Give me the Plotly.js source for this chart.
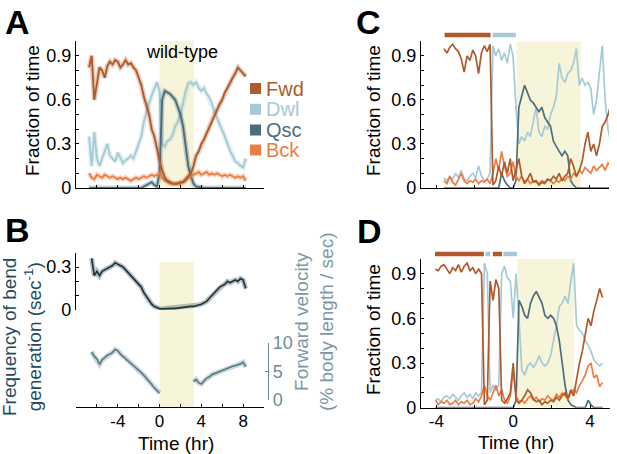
<!DOCTYPE html>
<html><head><meta charset="utf-8">
<script src="https://cdn.plot.ly/plotly-3.0.1.min.js"></script>
<style>html,body{margin:0;padding:0;background:#fff}#chart{width:617px;height:454px}</style>
</head><body><div id="chart"></div>
<script>
// ---------- DATA ----------
var states = ['Fwd','Dwl','Qsc','Bck'];
// Panel A (wild-type averages) and B
var tA = [-6.75,-6.5,-6.25,-6,-5.75,-5.5,-5.25,-5,-4.75,-4.5,-4.25,-4,-3.75,-3.5,-3.25,-3,-2.75,-2.5,-2.25,-2,-1.75,-1.5,-1.25,-1,-0.75,-0.5,-0.25,0,0.25,0.5,0.75,1,1.25,1.5,1.75,2,2.25,2.5,2.75,3,3.25,3.5,3.75,4,4.25,4.5,4.75,5,5.25,5.5,5.75,6,6.25,6.5,6.75,7,7.25,7.5,7.75,8,8.25];
var fwdA = [0.82,0.9,0.6,0.72,0.82,0.8,0.75,0.83,0.86,0.84,0.87,0.86,0.82,0.84,0.87,0.84,0.85,0.82,0.8,0.75,0.7,0.62,0.56,0.5,0.4,0.35,0.27,0.18,0.12,0.07,0.05,0.04,0.03,0.03,0.03,0.04,0.04,0.06,0.08,0.1,0.15,0.22,0.25,0.3,0.33,0.37,0.42,0.45,0.5,0.53,0.57,0.6,0.65,0.68,0.72,0.75,0.78,0.82,0.8,0.78,0.76];
var dwlA = [0.35,0.15,0.38,0.2,0.15,0.2,0.25,0.3,0.22,0.2,0.18,0.24,0.2,0.17,0.19,0.2,0.22,0.2,0.25,0.3,0.35,0.45,0.52,0.58,0.63,0.68,0.72,0.66,0.3,0.28,0.32,0.33,0.36,0.42,0.45,0.5,0.58,0.66,0.71,0.72,0.7,0.72,0.68,0.66,0.68,0.64,0.62,0.58,0.52,0.48,0.43,0.4,0.35,0.3,0.25,0.22,0.18,0.17,0.15,0.14,0.2];
var qscA = [0,0,0,0,0,0,0,0,0,0,0,0,0,0,0,0,0,0,0,0,0,0.01,0.02,0.03,0.04,0.02,0.01,0.1,0.6,0.66,0.65,0.64,0.62,0.6,0.55,0.5,0.42,0.28,0.15,0.08,0.03,0.01,0.005,0,0,0,0,0,0,0,0,0,0,0,0,0,0,0,0,0,0];
var bckA = [0.1,0.07,0.06,0.09,0.08,0.07,0.09,0.08,0.07,0.08,0.07,0.06,0.07,0.06,0.07,0.06,0.05,0.06,0.07,0.06,0.07,0.08,0.07,0.08,0.09,0.08,0.09,0.1,0.07,0.05,0.04,0.03,0.03,0.025,0.03,0.03,0.04,0.05,0.07,0.08,0.09,0.1,0.11,0.09,0.1,0.11,0.09,0.1,0.09,0.1,0.09,0.08,0.09,0.08,0.09,0.08,0.07,0.08,0.07,0.08,0.05];
var freqB = [null,0.36,0.24,0.27,0.24,0.27,0.28,0.29,0.3,0.31,0.33,0.32,0.31,0.3,0.28,0.26,0.24,0.22,0.2,0.18,0.16,0.12,0.09,0.06,0.04,0.025,0.015,0.01,0.008,0.01,0.008,0.01,0.012,0.012,0.015,0.018,0.02,0.02,0.022,0.025,0.025,0.028,0.035,0.04,0.05,0.06,0.08,0.1,0.12,0.14,0.16,0.17,0.18,0.2,0.19,0.2,0.21,0.2,0.22,0.21,0.15];
var velB = [null,8.4,7.6,7.2,6.2,7.0,7.4,7.8,8.0,8.3,8.8,8.6,8.0,7.6,7.3,6.9,6.4,6.0,5.6,5.2,4.8,4.3,3.8,3.3,2.7,2.1,1.6,1.2,null,1.6,null,null,null,null,null,null,null,null,4.4,null,3.2,3.6,3.0,2.8,3.3,3.8,4.0,4.4,4.6,4.8,5.0,5.2,5.4,5.6,5.8,5.9,6.0,6.1,6.3,6.6,5.8];
// Panel C (single animal)
var tC = [-3.6,-3.45,-3.3,-3.15,-3,-2.85,-2.7,-2.55,-2.4,-2.25,-2.1,-1.95,-1.8,-1.65,-1.5,-1.35,-1.2,-1.05,-0.9,-0.75,-0.6,-0.45,-0.3,-0.15,0,0.15,0.3,0.45,0.6,0.75,0.9,1.05,1.2,1.35,1.5,1.65,1.8,1.95,2.1,2.25,2.4,2.55,2.7,2.85,3,3.15,3.3,3.45,3.6,3.75,3.9,4.05,4.2,4.35,4.5,4.65,4.8,4.95,5.1];
var fwdC = [0.95,0.92,0.96,0.98,0.95,0.93,0.88,0.79,0.9,0.87,0.94,0.9,0.78,0.92,0.97,0.93,0.98,0.02,0.05,0.15,0.08,0.18,0.1,0.2,0.05,0.12,0.2,0.08,0.03,0.06,0.1,0.04,0.05,0.02,0.04,0.03,0.06,0.05,0.08,0.06,0.1,0.05,0.08,0.1,0.2,0.15,0.08,0.12,0.18,0.3,0.38,0.25,0.3,0.22,0.3,0.42,0.45,0.5,0.57];
var dwlC = [0.07,0.05,0.08,0.06,0.1,0.07,0.12,0.06,0.05,0.08,0.1,0.07,0.15,0.08,0.05,0.06,0.1,0.97,0.9,0.95,0.87,0.92,0.85,0.98,0.9,0.55,0.3,0.35,0.32,0.38,0.35,0.45,0.55,0.38,0.35,0.42,0.4,0.5,0.55,0.62,0.85,0.75,0.72,0.78,0.8,0.85,0.95,0.7,0.75,0.7,0.72,0.68,0.5,0.6,0.8,0.97,0.6,0.4,0.3];
var qscC = [0,0,0,0,0,0,0,0,0,0,0,0,0,0,0,0,0,0,0,0,0.1,0.05,0.02,0,0,0.05,0.55,0.62,0.7,0.65,0.6,0.58,0.55,0.52,0.55,0.48,0.45,0.42,0.32,0.28,0.25,0.22,0.25,0.22,0.05,0.02,0,0,0,0,0,0,0,0,0,0,0,0,0];
var bckC = [0.05,0.03,0.08,0.04,0.02,0.06,0.1,0.05,0.03,0.05,0.04,0.06,0.03,0.05,0.04,0.06,0.03,0.1,0.2,0.12,0.25,0.15,0.08,0.1,0.18,0.08,0.05,0.08,0.04,0.06,0.03,0.05,0.04,0.03,0.05,0.04,0.06,0.05,0.03,0.05,0.04,0.06,0.05,0.08,0.06,0.1,0.08,0.12,0.1,0.14,0.12,0.1,0.15,0.12,0.14,0.16,0.12,0.17,0.15];
// Panel D (single animal)
var tD = [-4.05,-3.9,-3.75,-3.6,-3.45,-3.3,-3.15,-3,-2.85,-2.7,-2.55,-2.4,-2.25,-2.1,-1.95,-1.8,-1.65,-1.5,-1.35,-1.2,-1.05,-0.9,-0.75,-0.6,-0.45,-0.3,-0.15,0,0.15,0.3,0.45,0.6,0.75,0.9,1.05,1.2,1.35,1.5,1.65,1.8,1.95,2.1,2.25,2.4,2.55,2.7,2.85,3,3.15,3.3,3.45,3.6,3.75,3.9,4.05,4.2,4.35,4.5,4.65];
var fwdD = [0.93,0.92,0.95,0.96,0.93,0.9,0.94,0.92,0.96,0.91,0.95,0.97,0.92,0.94,0.9,0.93,0.9,0.02,0.05,0.85,0.72,0.86,0.8,0.05,0.03,0.06,0.1,0.3,0.05,0.03,0.05,0.08,0.12,0.1,0.06,0.04,0.05,0.02,0.04,0.03,0.05,0.04,0.07,0.05,0.08,0.1,0.06,0.12,0.08,0.2,0.3,0.38,0.5,0.6,0.55,0.65,0.72,0.8,0.74];
var dwlD = [0.05,0.06,0.04,0.07,0.08,0.06,0.09,0.07,0.05,0.08,0.1,0.07,0.09,0.06,0.1,0.08,0.1,0.97,0.9,0.1,0.15,0.12,0.15,0.9,0.95,0.87,0.85,0.6,0.9,0.6,0.25,0.22,0.28,0.3,0.27,0.3,0.35,0.3,0.28,0.3,0.35,0.45,0.55,0.68,0.7,0.75,0.7,0.85,0.97,0.55,0.52,0.5,0.45,0.42,0.38,0.32,0.3,0.28,0.3];
var qscD = [0,0,0,0,0,0,0,0,0,0,0,0,0,0,0,0,0,0,0,0,0,0,0,0,0,0,0,0,0.05,0.72,0.68,0.62,0.6,0.7,0.75,0.78,0.74,0.7,0.62,0.6,0.62,0.6,0.55,0.45,0.3,0.15,0.05,0.02,0.01,0,0,0,0,0.05,0.02,0,0,0,0];
var bckD = [0.05,0.02,0.04,0.03,0.05,0.02,0.03,0.05,0.02,0.04,0.03,0.05,0.02,0.03,0.06,0.04,0.08,0.15,0.08,0.05,0.1,0.15,0.08,0.12,0.05,0.03,0.08,0.25,0.08,0.04,0.05,0.03,0.06,0.08,0.05,0.07,0.04,0.06,0.05,0.08,0.06,0.05,0.09,0.07,0.1,0.08,0.06,0.1,0.12,0.1,0.15,0.18,0.22,0.28,0.3,0.2,0.22,0.14,0.17];
// Dominant-state bars above C and D
var barsCStart = [-3.57,-1.06], barsCEnd = [-1.17,0.14], barsCState = ['Fwd','Dwl'];
var barsDStart = [-4.07,-1.44,-1.06,-0.51], barsDEnd = [-1.53,-1.19,-0.58,0.20], barsDState = ['Fwd','Dwl','Fwd','Dwl'];
// Lethargus windows (shaded)
var shadeA = [0, 3.3], shadeC = [0.19, 3.53], shadeD = [0.22, 3.16];
// Tick labels
var tickAB = [-8,-6,-4,-2,0,2,4,6,8,10];
var tickABText = ['','','-4','','0','','4','','8',''];
var tickCD = [-4,-2,0,2,4];
var tickDText = ['-4','','0','','4'];
var tickFrac = [0,0.1,0.2,0.3,0.4,0.5,0.6,0.7,0.8,0.9,1.0];
var tickFracText = ['0','','','0.3','','','0.6','','','0.9',''];

// ---------- STYLE ----------
var FONT = 'Liberation Sans, Arial, Helvetica, sans-serif';
var col = {Fwd:'#b0592a', Dwl:'#a6cad5', Qsc:'#4d6d7c', Bck:'#ee7d44'};
var W = 617, H = 454;
function px(x){return x/W;}
function py(y){return 1 - y/H;}

var traces = [];
function addSeries(x, y, color, xa, ya, w, band){
  if (band) traces.push({x:x, y:y, type:'scatter', mode:'lines', xaxis:xa, yaxis:ya,
    line:{color:color, width:5}, opacity:0.3, hoverinfo:'skip', showlegend:false});
  traces.push({x:x, y:y, type:'scatter', mode:'lines', xaxis:xa, yaxis:ya,
    line:{color:color, width:w}, hoverinfo:'skip', showlegend:false, connectgaps:false});
}
var dataA = {Fwd:fwdA, Dwl:dwlA, Qsc:qscA, Bck:bckA};
var dataC = {Fwd:fwdC, Dwl:dwlC, Qsc:qscC, Bck:bckC};
var dataD = {Fwd:fwdD, Dwl:dwlD, Qsc:qscD, Bck:bckD};
var order = ['Dwl','Qsc','Bck','Fwd'];
order.forEach(function(s){ addSeries(tA, dataA[s], col[s], 'x', 'y', 1.9, true); });
addSeries(tA, freqB, '#1d3641', 'x2', 'y2', 1.7, true);
addSeries(tA, velB, '#5d7d8a', 'x2', 'y3', 1.7, true);
order.forEach(function(s){ addSeries(tC, dataC[s], col[s], 'x4', 'y4', 1.7, false); });
order.forEach(function(s){ addSeries(tD, dataD[s], col[s], 'x5', 'y5', 1.7, false); });
function addBars(st, en, state, xa, ya){
  for (var i=0;i<st.length;i++){
    traces.push({x:[st[i], en[i]], y:[0.5,0.5], type:'scatter', mode:'lines', xaxis:xa, yaxis:ya,
      line:{color:col[state[i]], width:4.5}, hoverinfo:'skip', showlegend:false});
  }
}
addBars(barsCStart, barsCEnd, barsCState, 'x4', 'y6');
addBars(barsDStart, barsDEnd, barsDState, 'x5', 'y7');

function ax(extra){
  return Object.assign({showline:true, linecolor:'#000', linewidth:1.2, ticks:'inside', ticklen:3,
    tickwidth:1, tickcolor:'#000', showgrid:false, zeroline:false, fixedrange:true, automargin:false,
    tickfont:{family:FONT, size:18, color:'#000'}}, extra);
}
var xTickFont = {family:FONT, size:17, color:'#000'};
var shade = '#f7f5d9';
var layout = {
  width:W, height:H, margin:{l:0,r:0,t:0,b:0}, paper_bgcolor:'#fff', plot_bgcolor:'rgba(0,0,0,0)',
  showlegend:false,
  xaxis: ax({domain:[px(76),px(264)], range:[-8,10], anchor:'y', tickvals:tickAB, showticklabels:false}),
  yaxis: ax({domain:[py(188),py(41)], range:[0,1], anchor:'x', tickvals:tickFrac, ticktext:tickFracText}),
  xaxis2: ax({domain:[px(76),px(264)], range:[-8,10], anchor:'free', position:py(407), tickvals:tickAB, ticktext:tickABText, tickfont:xTickFont, ticklabelstandoff:-2}),
  yaxis2: ax({domain:[py(310),py(252.7)], range:[0,0.4], anchor:'x2', tickvals:[0,0.1,0.2,0.3,0.4], ticktext:['0','','','0.3','']}),
  yaxis3: ax({domain:[py(400),py(342.7)], range:[0,10], anchor:'free', position:px(268), side:'right',
    tickvals:[0,5,10], ticktext:['0','5','10'], linecolor:'#6f8d99', tickcolor:'#6f8d99',
    tickfont:{family:FONT, size:18, color:'#6f8d99'}}),
  xaxis4: ax({domain:[px(421),px(609)], range:[-4.8,5.0], anchor:'y4', tickvals:tickCD, showticklabels:false}),
  yaxis4: ax({domain:[py(188),py(41.3)], range:[0,1], anchor:'x4', tickvals:tickFrac, ticktext:tickFracText}),
  xaxis5: ax({domain:[px(421),px(610)], range:[-4.8,5.04], anchor:'y5', tickvals:tickCD, ticktext:tickDText, tickfont:xTickFont, ticklabelstandoff:-2}),
  yaxis5: ax({domain:[py(407.7),py(258.7)], range:[0,1], anchor:'x5', tickvals:tickFrac, ticktext:tickFracText}),
  yaxis6: {domain:[py(40),py(30)], range:[0,1], anchor:'x4', visible:false, fixedrange:true},
  yaxis7: {domain:[py(259),py(249)], range:[0,1], anchor:'x5', visible:false, fixedrange:true},
  shapes: [
    {type:'rect', xref:'x', yref:'y', x0:shadeA[0], x1:shadeA[1], y0:0, y1:1, fillcolor:shade, line:{width:0}, layer:'below'},
    {type:'rect', xref:'x2', yref:'paper', x0:shadeA[0], x1:shadeA[1], y0:py(406.7), y1:py(261.7), fillcolor:shade, line:{width:0}, layer:'below'},
    {type:'rect', xref:'x4', yref:'y4', x0:shadeC[0], x1:shadeC[1], y0:0, y1:1, fillcolor:shade, line:{width:0}, layer:'below'},
    {type:'rect', xref:'x5', yref:'y5', x0:shadeD[0], x1:shadeD[1], y0:0, y1:1, fillcolor:shade, line:{width:0}, layer:'below'}
  ],
  annotations: []
};
// legend for A (markers + coloured labels)
var legY = [88.5, 109.3, 130, 150];
states.forEach(function(s, i){
  layout.shapes.push({type:'rect', xref:'paper', yref:'paper', x0:px(250), x1:px(261),
    y0:py(legY[i]+5.5), y1:py(legY[i]-5.5), fillcolor:col[s], line:{width:0}});
  layout.annotations.push({xref:'paper', yref:'paper', x:px(264), y:py(legY[i]), xanchor:'left', yanchor:'middle',
    text:s, showarrow:false, font:{family:FONT, size:20, color:col[s]}});
});
function ann(x, y, text, opts){
  layout.annotations.push(Object.assign({xref:'paper', yref:'paper', x:px(x), y:py(y), text:text, showarrow:false,
    xanchor:'center', yanchor:'middle', font:{family:FONT, size:19, color:'#000'}}, opts || {}));
}
ann(17, 22, '<b>A</b>', {font:{family:FONT, size:34, color:'#000'}});
ann(17, 230, '<b>B</b>', {font:{family:FONT, size:34, color:'#000'}});
ann(368, 22, '<b>C</b>', {font:{family:FONT, size:34, color:'#000'}});
ann(369, 231, '<b>D</b>', {font:{family:FONT, size:34, color:'#000'}});
ann(181.5, 52, 'wild-type', {font:{family:FONT, size:18, color:'#000'}});
ann(32, 111, 'Fraction of time', {textangle:-90});
ann(373, 111, 'Fraction of time', {textangle:-90});
ann(373, 330, 'Fraction of time', {textangle:-90});
ann(22, 337, 'Frequency of bend<br>generation (sec<sup>-1</sup>)', {textangle:-90, font:{family:FONT, size:19, color:'#234b5e'}});
ann(314, 322, 'Forward velocity<br>(% body length / sec)', {textangle:-90, font:{family:FONT, size:19, color:'#7b98a4'}});
ann(175.5, 443, 'Time (hr)');
ann(515.5, 442, 'Time (hr)');

Plotly.newPlot('chart', traces, layout, {staticPlot:true, displayModeBar:false});
</script></body></html>
